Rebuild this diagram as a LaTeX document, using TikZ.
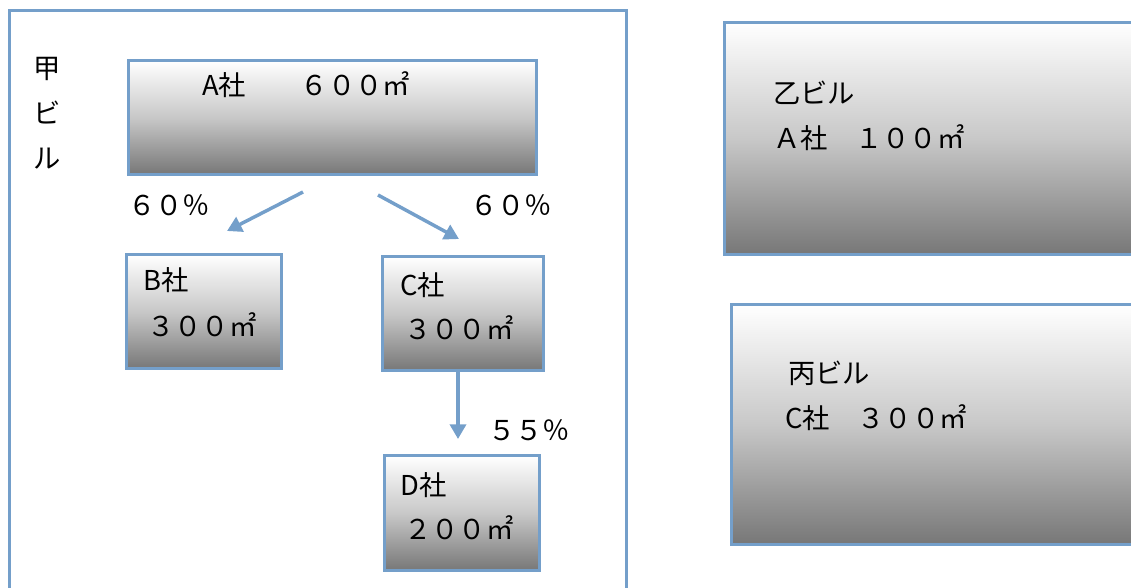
\documentclass[tikz,border=0pt]{standalone}
\usepackage{fontspec}
\setmainfont{Noto Sans CJK JP}
\usepackage{xcolor}
\usepackage{tikz}
\usetikzlibrary{arrows.meta}
\definecolor{edgeblue}{RGB}{116,159,202}
\definecolor{shadegray}{RGB}{119,119,119}
\definecolor{shademid}{RGB}{200,200,200}
\begin{document}
\begin{tikzpicture}
  [x=0.75pt,y=-0.75pt,
   every node/.style={font=\fontsize{20.5}{24}\selectfont},
   box/.style={draw=edgeblue,line width=2.25pt,top color=white,bottom color=shadegray,middle color=shademid,inner sep=0pt},
   lbl/.style={anchor=west,inner sep=0pt},
   flow/.style={draw=edgeblue,line width=2.6pt,-{Triangle[length=11pt,width=12pt]}}] % y runs downwards, one unit is one pixel of the reference
    \useasboundingbox (0,0) rectangle (1131,588);
    \clip (0,0) rectangle (1131,588);

    % building frame, cut off below
    \draw [edgeblue,line width=2.25pt] (9.5,10.5) rectangle (626.5,600);
    \node [inner sep=0pt,align=center,font=\fontsize{20.5}{33.75}\selectfont] (t0) at (47,113) {甲\\ビ\\ル};

    \node [box,minimum width=306pt,minimum height=85.5pt]    (a0) at (332.5,117.5) {};
    \node [box,minimum width=116.25pt,minimum height=85.5pt] (b0) at (204,311.5)   {};
    \node [box,minimum width=120.75pt,minimum height=85.5pt] (c0) at (463,313.5)   {};
    \node [box,minimum width=116.25pt,minimum height=86.25pt] (d0) at (462,513)    {};

    \node [box,minimum width=326.6pt,minimum height=174pt] (e0) at (942.25,138.5) {};
    \node [box,minimum width=321.4pt,minimum height=180pt] (f0) at (945.75,424.5) {};

    \node [lbl] (a1) at (202,85)  {A社　　６００㎡};
    \node [lbl] (b1) at (143,280) {B社};
    \node [lbl] (b2) at (147,325) {３００㎡};
    \node [lbl] (c1) at (400,285) {C社};
    \node [lbl] (c2) at (404,328) {３００㎡};
    \node [lbl] (d1) at (400,485) {D社};
    \node [lbl] (d2) at (404,528) {２００㎡};
    \node [lbl] (e1) at (773,93)  {乙ビル};
    \node [lbl] (e2) at (773,138) {Ａ社　１００㎡};
    \node [lbl] (f1) at (788,373) {丙ビル};
    \node [lbl] (f2) at (785,418) {C社　３００㎡};

    \node [lbl] (p1) at (128,205) {６０％};
    \node [lbl] (p2) at (470,205) {６０％};
    \node [lbl] (p3) at (488,430) {５５％};

    \coordinate (ab0) at (303,192);
    \coordinate (ab1) at (227,231);
    \coordinate (ac0) at (378,195);
    \coordinate (ac1) at (459,239);
    \coordinate (cd0) at (458,372);
    \coordinate (cd1) at (458,439);

    \draw [flow] (ab0) -- (ab1);
    \draw [flow] (ac0) -- (ac1);
    \draw [flow] (cd0) -- (cd1);

\end{tikzpicture}
\end{document}
